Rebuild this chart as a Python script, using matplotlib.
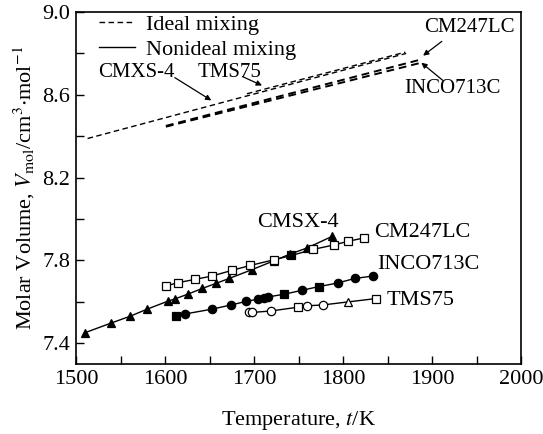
import numpy as np
import matplotlib
matplotlib.use("Agg")
import matplotlib.pyplot as plt
from matplotlib.lines import Line2D

plt.rcParams['font.family'] = ['Liberation Serif', 'DejaVu Serif']
plt.rcParams['mathtext.fontset'] = 'stix'
plt.rcParams['font.size'] = 16

# Nonideal mixing (measured) data: temperature (K), molar volume, marker code per point
# marker code: first char = shape, second = 'f' filled / 'o' open
cmsx4_T = [1510, 1539, 1561, 1580, 1603, 1611, 1626, 1642, 1657, 1672, 1698, 1722, 1740, 1760, 1788]
cmsx4_V = [7.451, 7.497, 7.531, 7.565, 7.603, 7.614, 7.638, 7.665, 7.689, 7.713, 7.756, 7.798, 7.830, 7.861, 7.917]
cmsx4_mk = ['^f'] * 15

cm247_T = [1601, 1615, 1634, 1653, 1675, 1696, 1722, 1742, 1766, 1790, 1806, 1824]
cm247_V = [7.677, 7.693, 7.709, 7.725, 7.752, 7.776, 7.803, 7.824, 7.853, 7.875, 7.893, 7.909]
cm247_mk = ['so', 'so', 'so', 'so', 'so', 'so', 'so', 'sf', 'so', 'so', 'so', 'so']

inco_T = [1612, 1623, 1653, 1674, 1691, 1704, 1711, 1716, 1734, 1754, 1773, 1794, 1813, 1834]
inco_V = [7.533, 7.542, 7.565, 7.585, 7.602, 7.613, 7.621, 7.624, 7.637, 7.656, 7.674, 7.691, 7.713, 7.725]
inco_mk = ['sf', 'of', 'of', 'of', 'of', 'of', 'of', 'of', 'sf', 'of', 'sf', 'of', 'of', 'of']

tms75_T = [1694, 1698, 1719, 1749, 1759, 1777, 1806, 1837]
tms75_V = [7.549, 7.549, 7.556, 7.574, 7.581, 7.585, 7.600, 7.616]
tms75_mk = ['oo', 'oo', 'oo', 'so', 'oo', 'oo', '^o', 'so']

# Ideal mixing (calculated) lines: end points
ideal_cmsx4_T = [1513, 1871]
ideal_cmsx4_V = [8.389, 8.800]
ideal_tms75_T = [1692, 1870]
ideal_tms75_V = [8.605, 8.806]
ideal_cm247_T = [1601, 1889]
ideal_cm247_V = [8.450, 8.772]
ideal_inco_T = [1601, 1886]
ideal_inco_V = [8.446, 8.753]

fig = plt.figure(figsize=(5.43, 4.34), dpi=100)
ax = fig.add_axes([0.140, 0.1613, 0.8195, 0.8111])

dash = (0, (4, 2.5))
for T, V in [(ideal_cmsx4_T, ideal_cmsx4_V), (ideal_tms75_T, ideal_tms75_V)]:
    ax.plot(T, V, color='black', linestyle=dash, lw=1.0)
for T, V in [(ideal_cm247_T, ideal_cm247_V), (ideal_inco_T, ideal_inco_V)]:
    ax.plot(T, V, color='black', linestyle=dash, lw=1.4)

for T, V, mk in [(cmsx4_T, cmsx4_V, cmsx4_mk), (cm247_T, cm247_V, cm247_mk),
                 (inco_T, inco_V, inco_mk), (tms75_T, tms75_V, tms75_mk)]:
    ax.plot(T, V, color='black', lw=1.0, zorder=2)
    for t, v, m in zip(T, V, mk):
        face = 'black' if m[1] == 'f' else 'white'
        ax.plot(t, v, marker=m[0], markersize=6, markerfacecolor=face,
                markeredgecolor='black', markeredgewidth=0.9, zorder=3)

# labels and arrows
arrow = dict(arrowstyle='-|>', color='black', lw=0.9, mutation_scale=8, shrinkA=0, shrinkB=0)
ax.text(1568, 8.707, 'CMXS-4', ha='center', va='center', fontsize=15)
ax.annotate('', xy=(1652, 8.573), xytext=(1611, 8.683), arrowprops=arrow)
ax.text(1673, 8.707, 'TMS75', ha='center', va='center', fontsize=15)
ax.annotate('', xy=(1709, 8.645), xytext=(1687, 8.688), arrowprops=arrow)
ax.text(1942, 8.925, 'CM247LC', ha='center', va='center', fontsize=15)
ax.annotate('', xy=(1890, 8.789), xytext=(1911, 8.858), arrowprops=arrow)
ax.text(1923, 8.631, 'INCO713C', ha='center', va='center', fontsize=15)
ax.annotate('', xy=(1888, 8.755), xytext=(1912, 8.67), arrowprops=arrow)

ax.text(1704, 7.983, 'CMSX-4', ha='left', va='center')
ax.text(1835, 7.934, 'CM247LC', ha='left', va='center')
ax.text(1839, 7.781, 'INCO713C', ha='left', va='center')
ax.text(1849, 7.609, 'TMS75', ha='left', va='center')

handles = [Line2D([], [], color='black', linestyle=dash, lw=1.0),
           Line2D([], [], color='black', lw=1.0)]
ax.legend(handles, ['Ideal mixing', 'Nonideal mixing'], loc='upper left',
          bbox_to_anchor=(0.027, 1.025), frameon=False, borderpad=0,
          handlelength=1.6, handletextpad=0.5, labelspacing=0.2, fontsize=16)

ax.set_xlim(1500, 2000)
ax.set_ylim(7.3, 9.0)
ax.set_xticks([1500, 1600, 1700, 1800, 1900, 2000])
ax.set_xticks([1550, 1650, 1750, 1850, 1950], minor=True)
ax.set_yticks([7.4, 7.8, 8.2, 8.6, 9.0])
ax.set_yticks([7.6, 8.0, 8.4, 8.8], minor=True)
ax.set_yticklabels(['7.4', '7.8', '8.2', '8.6', '9.0'])
ax.tick_params(which='both', direction='in', length=6, width=1, top=False, right=False)
ax.tick_params(axis='both', labelsize=16, pad=4)
for s in ax.spines.values():
    s.set_linewidth(1.2)

ax.set_xlabel('Temperature, $t$/K', labelpad=15)
ax.set_ylabel(r'Molar Volume, $V_{\rm mol}$/cm$^3$$\cdot$mol$^{-1}$', labelpad=4)

fig.savefig('out.png', dpi=100)
